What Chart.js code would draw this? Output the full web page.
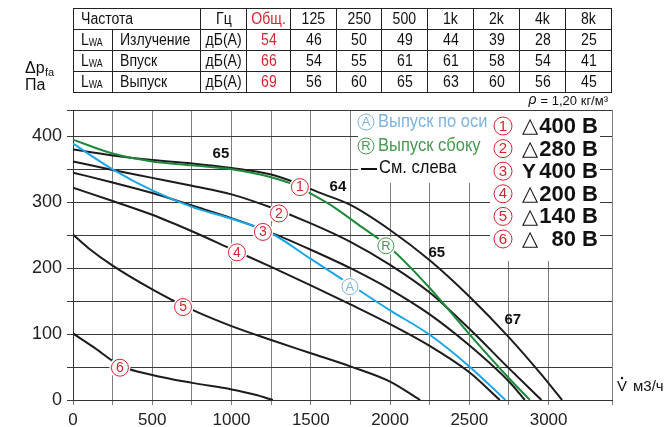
<!DOCTYPE html>
<html lang="ru">
<head>
<meta charset="UTF-8">
<title>Характеристика вентилятора</title>
<script src="https://cdn.jsdelivr.net/npm/chart.js"></script>
<style>
    * { margin: 0; padding: 0; box-sizing: border-box; }
    body { background: #fff; width: 665px; height: 427px; overflow: hidden; font-family: "Liberation Sans", Arial, sans-serif; }
    .wrap { position: relative; width: 665px; height: 427px; }
    .wrap canvas { position: absolute; left: 0; top: 0; }
    table.noise {
        position: absolute; left: 73px; top: 8px; width: 539px;
        border-collapse: collapse; table-layout: fixed;
        font-size: 16px; color: #111;
    }
    table.noise tr { height: 21px; }
    table.noise td { border: 1px solid #222; height: 21px; padding: 0; text-align: center; line-height: 16px; white-space: nowrap; overflow: hidden; }
    table.noise td span { display: inline-block; transform: scaleX(0.88); transform-origin: center; }
    table.noise td.left { text-align: left; padding-left: 7px; }
    table.noise td.left span { transform-origin: left center; }
    table.noise td.red { color: #d9232e; }
    table.noise sub { font-size: 10px; vertical-align: -1px; line-height: 10px; }
</style>
</head>
<body>
<div class="wrap">
    <canvas id="fanChart" width="665" height="427"></canvas>
    <table class="noise" id="noiseTable"></table>
</div>
<script>
    // sound table
    const bandLabels = ['125', '250', '500', '1k', '2k', '4k', '8k'];
    const rowNames = ['Излучение', 'Впуск', 'Выпуск'];
    const totalLevels = [54, 66, 69];
    const levelsEmission = [46, 50, 49, 44, 39, 28, 25];
    const levelsInlet = [54, 55, 61, 61, 58, 54, 41];
    const levelsOutlet = [56, 60, 65, 63, 60, 56, 45];

    // fan curves: flow in m3/h, pressure in Pa
    const flowC1 = [0, 250, 500, 750, 1000, 1250, 1400, 1550, 1750, 2000, 2250, 2500, 2750, 2950, 3085];
    const presC1 = [380, 371, 364, 359, 352, 342, 330, 315, 296, 258, 212, 157, 95, 40, 0];
    const flowC2 = [0, 250, 500, 750, 1000, 1250, 1500, 1750, 2000, 2250, 2500, 2750, 2955];
    const presC2 = [362, 349, 337, 325, 312, 292, 268, 240, 205, 163, 108, 48, 0];
    const flowC3 = [0, 250, 500, 750, 1000, 1250, 1500, 1750, 2000, 2250, 2500, 2750, 2850];
    const presC3 = [345, 330, 314, 295, 276, 254, 228, 200, 168, 130, 83, 28, 0];
    const flowC4 = [0, 250, 500, 750, 1000, 1250, 1500, 1750, 2000, 2250, 2500, 2692];
    const presC4 = [322, 302, 281, 256, 229, 202, 174, 145, 115, 82, 42, 0];
    const flowC5 = [0, 100, 250, 500, 750, 1000, 1250, 1500, 1750, 2000, 2190];
    const presC5 = [251, 230, 204, 168, 137, 112, 91, 71, 51, 28, 0];
    const flowC6 = [0, 125, 300, 500, 750, 1000, 1150, 1261];
    const presC6 = [101, 81, 52, 38, 26, 16, 8, 0];
    const flowAxial = [0, 250, 500, 750, 1000, 1250, 1500, 1750, 2000, 2250, 2500, 2728];
    const presAxial = [389, 350, 318, 293, 275, 253, 214, 175, 136, 99, 51, 0];
    const flowRadial = [0, 250, 500, 750, 1000, 1250, 1400, 1500, 1650, 1800, 2000, 2250, 2500, 2750, 2882];
    const presRadial = [395, 374, 362, 356, 350, 338, 326, 313, 292, 266, 231, 170, 100, 33, 0];

    // tags on the curves
    const tagText = ['1', '2', '3', '4', '5', '6'];
    const tagFlow = [1431, 1299, 1198, 1034, 694, 296];
    const tagPres = [323, 283, 255, 224, 141, 49];
    const levelText = ['65', '64', '65', '67'];
    const levelFlow = [933, 1671, 2295, 2774];
    const levelPres = [374, 324, 224, 122];

    // legend
    const connSymbols = ['△', '△', 'Y', '△', '△', '△'];
    const voltages = ['400 В', '280 В', '400 В', '200 В', '140 В', '80 В'];

    const RED = '#d9232e';
    const BLUE = '#1aa6e6';
    const LIGHTBLUE = '#7cb3df';
    const GREEN = '#1d8a3a';
    const GREEN_TXT = '#47994f';
    const BLACK = '#1c1c1c';
    const SANS = '"Liberation Sans", Arial, sans-serif';

    function buildTable() {
        const t = document.getElementById('noiseTable');
        const widths = [39, 88, 46, 44, 46, 45, 46, 46, 46, 46, 46];
        const cell = (txt, cls) => '<td' + (cls ? ' class="' + cls + '"' : '') + '><span>' + txt + '</span></td>';
        let html = '<colgroup>' + widths.map(w => '<col style="width:' + w + 'px">').join('') + '</colgroup>';
        html += '<tr><td class="left" colspan="2"><span>Частота</span></td>' + cell('Гц') + cell('Общ.', 'red') +
            bandLabels.map(b => cell(b)).join('') + '</tr>';
        const rows = [levelsEmission, levelsInlet, levelsOutlet];
        rows.forEach((vals, i) => {
            html += '<tr>' + cell('L<sub>WA</sub>', 'left') + cell(rowNames[i], 'left') + cell('дБ(А)') +
                cell(totalLevels[i], 'red') + vals.map(v => cell(v)).join('') + '</tr>';
        });
        t.innerHTML = html;
    }
    buildTable();

    function pts(f, p) { return f.map((v, i) => ({ x: v, y: p[i] })); }

    function blackLine(f, p) {
        return { data: pts(f, p), borderColor: BLACK, borderWidth: 2, order: 2 };
    }

    function circled(ctx, x, y, txt, color, r, size) {
        ctx.beginPath();
        ctx.arc(x, y, r + 2, 0, Math.PI * 2);
        ctx.fillStyle = '#fff';
        ctx.fill();
        ctx.beginPath();
        ctx.arc(x, y, r, 0, Math.PI * 2);
        ctx.lineWidth = 1;
        ctx.strokeStyle = color;
        ctx.stroke();
        ctx.fillStyle = color;
        ctx.font = size + 'px ' + SANS;
        ctx.textAlign = 'center';
        ctx.textBaseline = 'middle';
        ctx.fillText(txt, x, y + 0.5);
    }

    function narrowText(ctx, txt, x, y, font, sx) {
        ctx.save();
        ctx.translate(x, y);
        ctx.scale(sx, 1);
        ctx.font = font;
        ctx.fillText(txt, 0, 0);
        ctx.restore();
    }

    const decorPlugin = {
        id: 'decor',
        beforeDatasetsDraw(chart) {
            const ctx = chart.ctx, a = chart.chartArea;
            ctx.save();
            ctx.fillStyle = '#fff';
            // legend boxes hide the grid behind them
            ctx.fillRect(358, a.top + 1, 132, 72);
            ctx.fillRect(490, a.top + 1, 110, 150);
            ctx.restore();
        },
        afterDatasetsDraw(chart) {
            const ctx = chart.ctx;
            const xs = chart.scales.x, ys = chart.scales.y;
            ctx.save();
            // sound level numbers along curve 1
            ctx.font = 'bold 15px ' + SANS;
            ctx.fillStyle = '#111';
            ctx.textAlign = 'center';
            ctx.textBaseline = 'middle';
            levelText.forEach((t, i) => {
                ctx.fillText(t, xs.getPixelForValue(levelFlow[i]), ys.getPixelForValue(levelPres[i]));
            });
            tagText.forEach((t, i) => {
                circled(ctx, xs.getPixelForValue(tagFlow[i]), ys.getPixelForValue(tagPres[i]), t, RED, 8.5, 14);
            });
            circled(ctx, xs.getPixelForValue(1747), ys.getPixelForValue(172), 'A', LIGHTBLUE, 8, 13);
            circled(ctx, xs.getPixelForValue(1974), ys.getPixelForValue(234), 'R', GREEN_TXT, 8, 13);
            ctx.restore();
        },
        afterDraw(chart) {
            const ctx = chart.ctx;
            ctx.save();
            // curve type legend
            circled(ctx, 366, 122, 'A', LIGHTBLUE, 8, 13);
            circled(ctx, 366, 146, 'R', GREEN_TXT, 8, 13);
            ctx.textAlign = 'left';
            ctx.textBaseline = 'middle';
            const legFont = '19px ' + SANS;
            ctx.fillStyle = LIGHTBLUE;
            narrowText(ctx, 'Выпуск по оси', 378, 122, legFont, 0.87);
            ctx.fillStyle = GREEN_TXT;
            narrowText(ctx, 'Выпуск сбоку', 378, 146, legFont, 0.87);
            ctx.fillStyle = '#111';
            narrowText(ctx, 'См. слева', 379, 168, legFont, 0.87);
            ctx.fillRect(361, 168, 16, 2);

            // motor legend
            voltages.forEach((v, i) => {
                const y = 126 + i * 22.6;
                circled(ctx, 503, y, String(i + 1), RED, 9, 15);
                ctx.fillStyle = '#111';
                ctx.textBaseline = 'middle';
                ctx.textAlign = 'center';
                if (connSymbols[i] === 'Y') {
                    ctx.font = 'bold 21px ' + SANS;
                    ctx.fillText('Y', 529, y + 1);
                } else {
                    ctx.font = '21px "DejaVu Sans", sans-serif';
                    ctx.fillText(connSymbols[i], 530, y + 1);
                }
                ctx.font = 'bold 22px ' + SANS;
                ctx.textAlign = 'right';
                ctx.fillText(v, 598, y + 1);
            });

            // density note
            ctx.textAlign = 'right';
            ctx.textBaseline = 'middle';
            ctx.fillStyle = '#111';
            ctx.font = '13px ' + SANS;
            const note = '= 1,20 кг/м³';
            ctx.fillText(note, 608, 101);
            const noteW = ctx.measureText(note).width;
            ctx.font = 'italic 14px ' + SANS;
            ctx.fillText('ρ', 608 - noteW - 4, 100);

            // axis titles
            ctx.textAlign = 'left';
            ctx.font = '16px ' + SANS;
            ctx.fillText('Δp', 25, 69);
            ctx.font = '11px ' + SANS;
            ctx.fillText('fa', 45, 73);
            ctx.font = '16px ' + SANS;
            ctx.fillText('Па', 25, 86);

            ctx.font = '15px ' + SANS;
            ctx.fillText('V', 617, 387);
            ctx.beginPath();
            ctx.arc(622, 378, 1.2, 0, Math.PI * 2);
            ctx.fill();
            ctx.fillText('м3/ч', 633, 387);
            ctx.restore();
        }
    };

    const ctx = document.getElementById('fanChart').getContext('2d');
    new Chart(ctx, {
        type: 'line',
        data: {
            datasets: [
                blackLine(flowC1, presC1),
                blackLine(flowC2, presC2),
                blackLine(flowC3, presC3),
                blackLine(flowC4, presC4),
                blackLine(flowC5, presC5),
                blackLine(flowC6, presC6),
                { data: pts(flowAxial, presAxial), borderColor: BLUE, borderWidth: 2, order: 1 },
                { data: pts(flowRadial, presRadial), borderColor: GREEN, borderWidth: 2, order: 0 }
            ]
        },
        options: {
            responsive: false,
            animation: false,
            parsing: false,
            elements: {
                point: { radius: 0 },
                line: { cubicInterpolationMode: 'monotone', fill: false }
            },
            layout: { padding: { top: 110, right: 53, left: 0, bottom: 0 } },
            plugins: { legend: { display: false }, tooltip: { enabled: false } },
            scales: {
                x: {
                    type: 'linear', min: 0, max: 3400,
                    afterFit: s => { s.height = 27; },
                    grid: { color: '#7d7d7d', lineWidth: 1, tickLength: 5 },
                    border: { color: '#333', width: 1 },
                    ticks: {
                        stepSize: 250, autoSkip: false, maxRotation: 0, padding: 5,
                        color: '#222', font: { family: SANS, size: 17 },
                        callback: v => (v % 500 === 0 ? v : '')
                    }
                },
                y: {
                    type: 'linear', min: 0, max: 440,
                    afterFit: s => { s.width = 73; },
                    grid: { color: '#3a3a3a', lineWidth: 1, tickLength: 6 },
                    border: { color: '#333', width: 1 },
                    ticks: {
                        stepSize: 50, autoSkip: false, padding: 5,
                        color: '#222', font: { family: SANS, size: 18 },
                        callback: v => (v % 100 === 0 ? v : '')
                    }
                }
            }
        },
        plugins: [decorPlugin]
    });
</script>
</body>
</html>
